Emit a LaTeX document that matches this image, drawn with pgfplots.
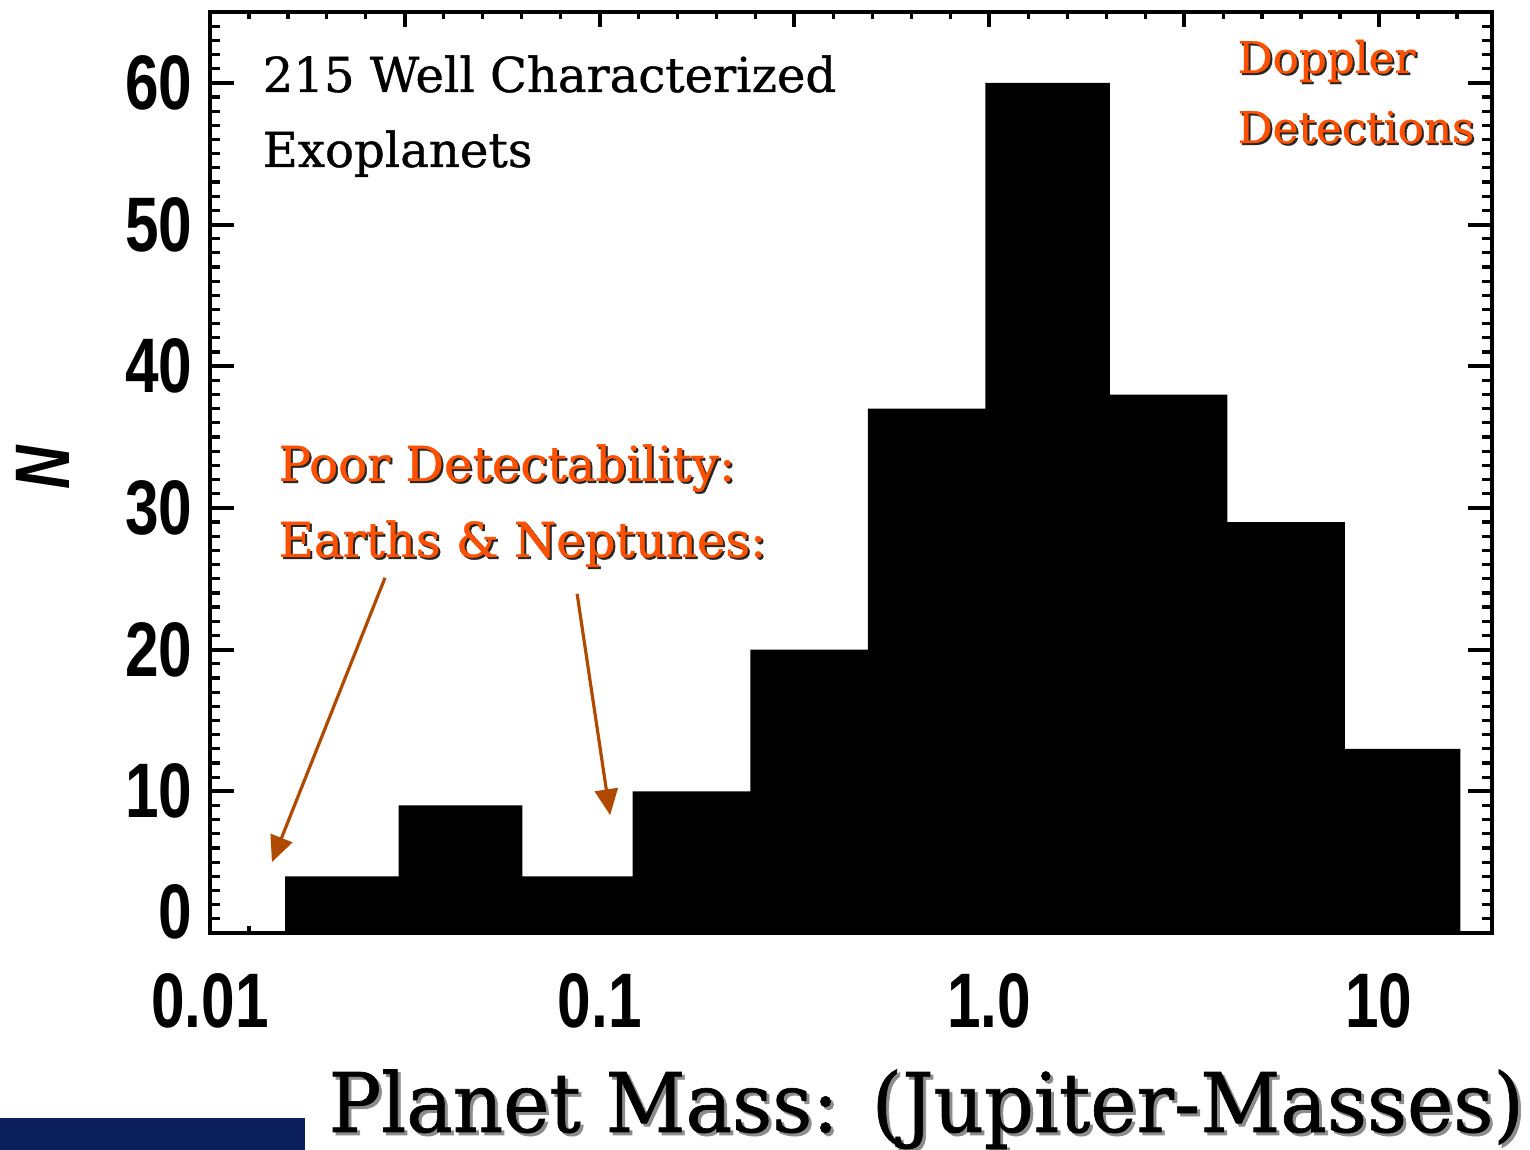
\documentclass[border=0pt]{standalone}
\usepackage{pgfplots}
\pgfplotsset{compat=1.18}
\usepackage{fontspec}
\usetikzlibrary{arrows.meta}
\setmainfont{DejaVu Serif}
\newfontfamily\schfont[FakeBold=0.8]{DejaVu Serif}
\newfontfamily\titlefont[FakeStretch=0.95, FakeBold=0.8]{DejaVu Serif}
\newfontfamily\tickfont[FakeStretch=0.78]{Liberation Sans}

\definecolor{annot}{RGB}{255,80,0}
\definecolor{arrowc}{RGB}{176,74,0}
\definecolor{navy}{RGB}{10,31,92}

% histogram of planet masses: left bin edges (Jupiter masses) and counts,
% the last row closes the final bin
\pgfplotstableread{
edge      n
0.0156    4
0.0305    9
0.0633    4
0.1216    10
0.2435    20
0.4877    37
0.9765    60
2.038     38
4.082     29
8.17      13
16.17     13
}\massdata

\pgfplotsset{
  massbox/.style={
    at={(21mm,21.7mm)}, anchor=south west,
    scale only axis, width=128.2mm, height=92.1mm,
    xmin=0.01, xmax=19.5, ymin=0, ymax=65,
    axis line style={line width=0.42mm},
    tick align=inside,
    major tick style={line width=0.4mm, black},
    minor tick style={line width=0.32mm, black},
  }
}

\newcommand{\shadowed}[4]{% position, anchor, colour, text
  \node[anchor=#2, inner sep=0pt, text=black!85, xshift=0.2mm, yshift=-0.2mm] at #1 {#4};
  \node[anchor=#2, inner sep=0pt, text=#3] at #1 {#4};
}
\newcommand{\tickfontsize}{\tickfont\bfseries\fontsize{22}{22}\selectfont}

\begin{document}
\begin{tikzpicture}
\path[use as bounding box] (0,0) rectangle (153mm,115mm);

% y axis ticks and the bars
\begin{axis}[xmode=log, massbox, name=ax,
  xtick=\empty, xminorticks=false,
  ytick={0,10,...,60},
  yticklabels={,10,20,30,40,50,60},
  minor ytick={1,...,64},
  major tick length=2.4mm, minor tick length=1.0mm,
  yticklabel style={font=\tickfontsize, inner sep=0pt, anchor=east, xshift=-1.7mm},
]
\addplot[ybar interval, fill=black, draw=none] table[x=edge, y=n] {\massdata};

\draw[arrowc, line width=0.32mm, -{Triangle[length=2.6mm, width=2.3mm]}]
  (axis cs:0.02813,25.07) -- (axis cs:0.01442,5.0);
\draw[arrowc, line width=0.32mm, -{Triangle[length=2.6mm, width=2.3mm]}]
  (axis cs:0.08753,23.94) -- (axis cs:0.1064,8.31);
\end{axis}

% the zero label sits raised above the x axis
\node[anchor=east, inner sep=0pt, xshift=-1.7mm, yshift=2.1mm] at (ax.south west) {\tickfontsize 0};

% logarithmic x axis ticks: long every half decade, short every tenth
\begin{axis}[xmode=log, massbox,
  ytick=\empty, yminorticks=false,
  xtick={0.01,0.0316228,0.1,0.316228,1,3.16228,10},
  xticklabels={0.01,,0.1,,1.0,,10},
  minor xtick={0.012589,0.015849,0.019953,0.025119,0.039811,0.050119,0.063096,0.079433,
    0.12589,0.15849,0.19953,0.25119,0.39811,0.50119,0.63096,0.79433,
    1.2589,1.5849,1.9953,2.5119,3.9811,5.0119,6.3096,7.9433,
    12.589,15.849},
  major tick length=1.5mm, minor tick length=0.7mm,
  xticklabel style={font=\tickfontsize, inner sep=0pt, anchor=north, yshift=-4.0mm},
]
\end{axis}

% text annotations
\node[anchor=base west, inner sep=0pt] at (26.2mm,105.8mm) {\schfont\fontsize{13.7}{16}\selectfont 215 Well Characterized};
\node[anchor=base west, inner sep=0pt] at (26.2mm,98.3mm) {\schfont\fontsize{13.7}{16}\selectfont Exoplanets};

\shadowed{(123.7mm,107.7mm)}{base west}{annot}{\schfont\fontsize{12.4}{15}\selectfont Doppler}
\shadowed{(123.7mm,100.7mm)}{base west}{annot}{\schfont\fontsize{12.4}{15}\selectfont Detections}
\shadowed{(27.8mm,66.9mm)}{base west}{annot}{\schfont\fontsize{13.7}{16}\selectfont Poor Detectability:}
\shadowed{(27.8mm,59.3mm)}{base west}{annot}{\schfont\fontsize{13.7}{16}\selectfont Earths \& Neptunes:}

% axis titles
\node[rotate=90, inner sep=0pt] at (4.3mm,68.2mm) {\tickfont\bfseries\itshape\fontsize{22}{22}\selectfont N};
\node[anchor=base west, inner sep=0pt, text=black!45] at (33.1mm,1.5mm) {\titlefont\fontsize{23.4}{26}\selectfont Planet Mass: (Jupiter-Masses)};
\node[anchor=base west, inner sep=0pt] at (32.8mm,1.8mm) {\titlefont\fontsize{23.4}{26}\selectfont Planet Mass: (Jupiter-Masses)};

\fill[navy] (0,0) rectangle (30.5mm,3.2mm);
\end{tikzpicture}
\end{document}
